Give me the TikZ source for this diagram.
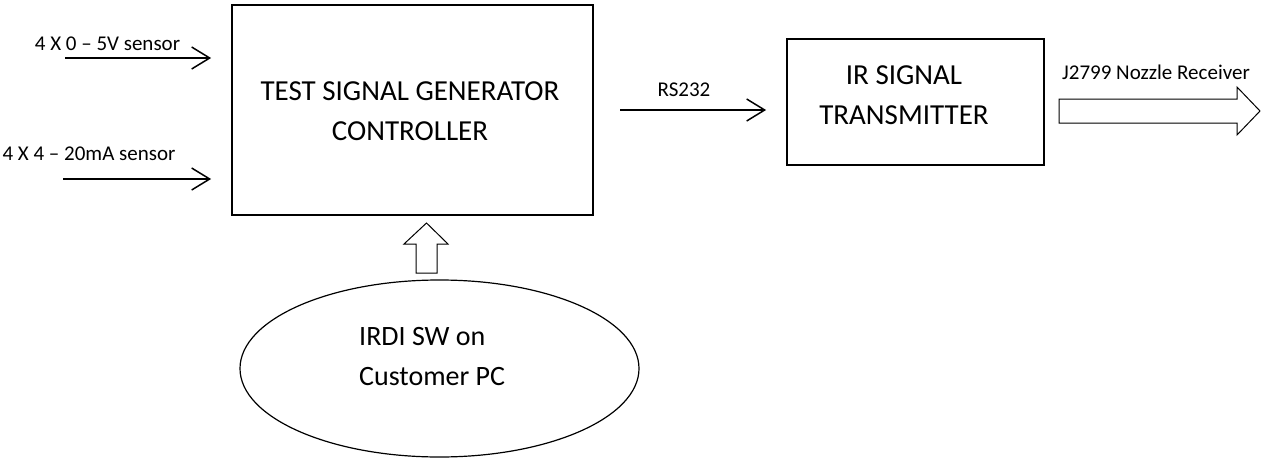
\documentclass[tikz,border=0pt]{standalone}
\usepackage{fontspec}
\setmainfont{Carlito}
\usetikzlibrary{arrows.meta,shapes.geometric}
\tikzset{
  blockbox/.style={draw, line width=1.8pt, inner sep=0pt},
  bigtext/.style={align=center, font=\fontsize{29}{40}\selectfont, inner sep=0pt},
  smalltext/.style={font=\fontsize{21}{25}\selectfont, inner sep=0pt},
  sigarrow/.style={line width=1.5pt, -{Straight Barb[length=18pt,width=22pt,line width=1.5pt]}},
  fatarrow/.style={draw, line width=1pt, fill=white, line join=miter}
}
\begin{document}
\begin{tikzpicture}[x=1pt,y=-1pt]
\useasboundingbox (0,0) rectangle (1261,460);
% boxes
\node[blockbox, minimum width=361pt, minimum height=210pt] (tsg) at (412.5,110) {};
\node[bigtext] (tsgtext) at (410,111) {TEST SIGNAL GENERATOR\\CONTROLLER};
\node[blockbox, minimum width=257pt, minimum height=126pt] (ir) at (915.5,102) {};
\node[bigtext] (irtext) at (904,95) {IR SIGNAL\\TRANSMITTER};
\node[draw, ellipse, line width=1.2pt, minimum width=399pt, minimum height=177pt, inner sep=0pt] (pc) at (439.5,368.5) {};
\node[align=left, anchor=west, font=\fontsize{28}{40}\selectfont, inner sep=0pt] (pctext) at (359,357) {IRDI SW on\\Customer PC};
% input arrows
\coordinate (in1) at (65,58);
\coordinate (in2) at (63,179);
\node[smalltext] (l1) at (107.5,44) {4 X 0 – 5V sensor};
\node[smalltext] (l2) at (89,154) {4 X 4 – 20mA sensor};
\draw[sigarrow] (in1) -- ([xshift=-20pt]in1 -| tsg.west);
\draw[sigarrow] (in2) -- ([xshift=-20pt]in2 -| tsg.west);
% RS232
\coordinate (rs) at (620,110);
\node[smalltext] (lrs) at (684,90) {RS232};
\draw[sigarrow] (rs) -- ([xshift=-20pt]rs -| ir.west);
% output block arrow
\node[smalltext] (lj) at (1156,72) {J2799 Nozzle Receiver};
\draw[fatarrow] (1059,99) -- (1237,99) -- (1237,87) -- (1260,111) -- (1237,135) -- (1237,123) -- (1059,123) -- cycle;
% up block arrow
\draw[fatarrow] (416,273) -- (416,244) -- (404,244) -- (426.5,223) -- (448,244) -- (437,244) -- (437,273) -- cycle;
\end{tikzpicture}
\end{document}
